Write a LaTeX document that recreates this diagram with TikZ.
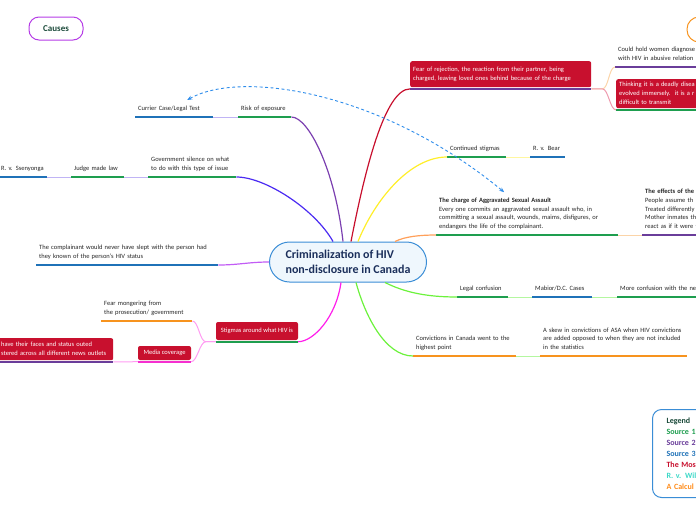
\documentclass[tikz,border=0pt]{standalone}
\usepackage{fontspec}
\setmainfont{Carlito}
\usetikzlibrary{arrows.meta}

\definecolor{hubline}{HTML}{3A8DD6}
\definecolor{hubfill}{HTML}{EFF7FD}
\definecolor{hubtext}{HTML}{1B2F5B}
\definecolor{crimson}{HTML}{C8102E}
\definecolor{srcgreen}{HTML}{1E9E4F}
\definecolor{srcblue}{HTML}{1F72B8}
\definecolor{srcpurple}{HTML}{6A3D9A}
\definecolor{srcorange}{HTML}{F7931E}
\definecolor{srcmagenta}{HTML}{F52FD0}
\definecolor{brpurple}{HTML}{7B3FB0}
\definecolor{brviolet}{HTML}{4B2BF2}
\definecolor{brlilac}{HTML}{C25CF5}
\definecolor{brmagenta}{HTML}{FF1EEB}
\definecolor{brgreen}{HTML}{6CF23C}
\definecolor{brorange}{HTML}{FFA05A}
\definecolor{bryellow}{HTML}{FFEE2A}
\definecolor{ltviolet}{HTML}{C0B4F5}
\definecolor{ltgreen}{HTML}{B4F7A0}
\definecolor{ltyellow}{HTML}{FFF7A0}
\definecolor{ltorange}{HTML}{FBD4A8}
\definecolor{ltpink}{HTML}{FF9CF2}
\definecolor{ltrose}{HTML}{EE9AAE}
\definecolor{xrefblue}{HTML}{2D8CEB}
\definecolor{causeline}{HTML}{B53CE6}
\definecolor{darktxt}{HTML}{1B4A3A}
\definecolor{turq}{HTML}{3DD9C8}
\definecolor{legorange}{HTML}{FF8C1A}

\newcommand{\notefont}{\fontsize{6.5}{8.6}\selectfont}
\newcommand{\boxfont}{\fontsize{6.5}{9}\selectfont}

\begin{document}
\begin{tikzpicture}[
    x=1pt, y=-1pt,
    topic/.style={anchor=south west, align=left, inner xsep=3pt, inner ysep=4pt,
                  font=\notefont, text=black!85,
                  execute at begin node=\strut, execute at end node=\strut},
    note/.style={fill=crimson, text=white, rounded corners=2pt, font=\boxfont,
                 inner sep=3pt},
    hub/.style={draw=hubline, fill=hubfill, line width=1pt, rounded corners=20pt,
                minimum width=157pt, minimum height=40pt, align=left,
                font=\fontsize{12}{15}\selectfont\bfseries, text=hubtext},
    cause/.style={draw=causeline, line width=1pt, rounded corners=10pt,
                  minimum width=54pt, minimum height=23pt,
                  font=\fontsize{9}{11}\selectfont\bfseries, text=darktxt},
    legend/.style={draw=hubline, line width=1pt, rounded corners=9pt, fill=white,
                   anchor=north west, align=left, text width=90pt, inner xsep=14pt,
                   minimum height=88pt, font=\fontsize{8}{11}\selectfont\bfseries},
    uline/.style={line width=1.8pt},
    branch/.style={line width=1.2pt},
    twig/.style={line width=1pt},
    xref/.style={{Stealth[length=5pt,width=4pt]}-{Stealth[length=5pt,width=4pt]},
                 xrefblue, line width=0.9pt, dash pattern=on 3pt off 2.5pt},
]
    \useasboundingbox (0,0) rectangle (696,520);
    \clip (0,0) rectangle (696,520);

    % --- Central topic and floating boxes ---
    \node[hub] (hub) at (348,262) {Criminalization of HIV\\non-disclosure in Canada};
    \node[cause] (causes) at (56,28.5) {Causes};
    \node[cause, draw=srcorange, rounded corners=12pt, minimum width=60pt,
          minimum height=25pt] (effbox) at (717,29.5) {};

    % --- Upper left: risk of exposure ---
    \node[topic, text width=47pt] (risk)    at (238,117) {Risk of exposure};
    \node[topic, text width=72pt] (currier) at (135,117) {Currier Case/Legal Test};
    \draw[uline, srcgreen] (risk.south west) -- (risk.south east);
    \draw[uline, srcblue]  (currier.south west) -- (currier.south east);
    \draw[branch, brpurple] ([xshift=-5pt]hub.north) .. controls +(-8,-72) and +(17,0) .. (risk.south east);
    \draw[twig, ltviolet] (risk.south west) -- (currier.south east);

    % --- Left: judge made law ---
    \node[topic, text width=82pt] (govsil) at (148,177) {Government silence on what\\to do with this type of issue};
    \node[topic, text width=47pt] (judge)  at (71,177)  {Judge made law};
    \node[topic, text width=43pt] (ssen)   at (-2,177)  {R. v. Ssenyonga};
    \draw[uline, srcgreen] (govsil.south west) -- (govsil.south east);
    \draw[uline, srcgreen] (judge.south west) -- (judge.south east);
    \draw[uline, srcblue]  (ssen.south west) -- (ssen.south east);
    \draw[branch, brviolet] ([xshift=-15pt]hub.north) .. controls +(-18,-32) and +(29,0) .. (govsil.south east);
    \draw[twig, ltviolet] (govsil.south west) -- (judge.south east);
    \draw[twig, ltviolet] (judge.south west) -- (ssen.south east);

    % --- Left: complainant ---
    \node[topic, text width=176pt] (compl) at (36,265) {The complainant would never have slept with the person had\\they known of the person's HIV status};
    \draw[uline, srcblue] (compl.south west) -- (compl.south east);
    \draw[branch, brlilac] (hub.west) .. controls +(-20,0) and +(20,0) .. (compl.south east);

    % --- Lower left: stigmas ---
    \node[note, minimum width=82pt, minimum height=18pt] (stig)  at (257,331)   {Stigmas around what HIV is};
    \node[topic, text width=85pt] (fear) at (101,321) {Fear mongering from\\the prosecution/ government};
    \node[note, minimum width=53pt, minimum height=14pt] (media) at (164.5,353) {Media coverage};
    \node[note, anchor=north west, align=left, text width=109pt, minimum height=22pt] (outed) at (-2,338)
        {have their faces and status outed\\stered across all different news outlets};
    \draw[uline, srcgreen]   ([yshift=-1.5pt]stig.south west) -- ([yshift=-1.5pt]stig.south east);
    \draw[uline, srcorange]  (fear.south west) -- (fear.south east);
    \draw[uline, srcmagenta] ([yshift=-1.5pt]media.south west) -- ([yshift=-1.5pt]media.south east);
    \draw[uline, srcpurple]  ([yshift=-1.5pt]outed.south west) -- ([yshift=-1.5pt]outed.south east);
    \draw[branch, brmagenta] ([xshift=-7pt]hub.south) .. controls +(-5,35) and +(15,0) .. ([yshift=-1.5pt]stig.south east);
    \draw[twig, ltpink] ([yshift=-1.5pt]stig.south west) -- ++(-10,0) .. controls +(-6,0) and +(6,0) .. (fear.south east);
    \draw[twig, ltpink] ([yshift=-1.5pt]stig.south west) -- ++(-10,0) .. controls +(-6,0) and +(6,0) .. ([yshift=-1.5pt]media.south east);
    \draw[twig, ltpink] ([yshift=-1.5pt]media.south west) -- ([yshift=-1.5pt]outed.south east);

    % --- Lower right: convictions ---
    \node[topic, text width=97pt]  (conv) at (413,356) {Convictions in Canada went to the\\highest point};
    \node[topic, text width=141pt] (skew) at (540,356) {A skew in convictions of ASA when HIV convictions\\are added opposed to when they are not included\\in the statistics};
    \draw[uline, srcorange] (conv.south west) -- (conv.south east);
    \draw[uline, srcorange] (skew.south west) -- (skew.south east);
    \draw[branch, brgreen] ([xshift=8pt]hub.south) .. controls +(9,33) and +(-28,0) .. (conv.south west);
    \draw[twig, ltgreen] (conv.south east) -- (skew.south west);

    % --- Right: legal confusion ---
    \node[topic, text width=45pt] (legal)  at (457,297) {Legal confusion};
    \node[topic, text width=54pt] (mabior) at (532,297) {Mabior/D.C. Cases};
    \node[topic, text width=87pt] (morec)  at (617,297) {More confusion with the ne};
    \draw[uline, srcgreen] (legal.south west) -- (legal.south east);
    \draw[uline, srcblue]  (mabior.south west) -- (mabior.south east);
    \draw[uline, srcgreen] (morec.south west) -- (morec.south east);
    \draw[branch, brgreen] ([xshift=37pt]hub.south) .. controls +(20,10) and +(-30,0) .. (legal.south west);
    \draw[twig, ltgreen] (legal.south east) -- (mabior.south west);
    \draw[twig, ltgreen] (mabior.south east) -- (morec.south west);

    % --- Right: aggravated sexual assault ---
    \node[topic, text width=176pt] (charge) at (436,235) {\textbf{The charge of Aggravated Sexual Assault}\\Every one commits an aggravated sexual assault who, in\\committing a sexual assault, wounds, maims, disfigures, or\\endangers the life of the complainant.};
    \node[topic, text width=72pt] (effects) at (642,235) {\textbf{The effects of the}\\People assume th\\Treated differently\\Mother inmates th\\react as if it were t};
    \draw[uline, srcgreen]  (charge.south west) -- (charge.south east);
    \draw[uline, srcpurple] (effects.south west) -- (effects.south east);
    \draw[branch, brorange] ([xshift=47pt]hub.north) .. controls +(10,-5) and +(-16,0) .. (charge.south west);
    \draw[twig, ltorange] (charge.south east) -- (effects.south west);

    % --- Upper right: continued stigmas ---
    \node[topic, text width=53pt] (contst) at (447,157) {Continued stigmas};
    \node[topic, text width=29pt] (bear)   at (530,157) {R. v. Bear};
    \draw[uline, srcgreen] (contst.south west) -- (contst.south east);
    \draw[uline, srcblue]  (bear.south west) -- (bear.south east);
    \draw[branch, bryellow] ([xshift=10pt]hub.north) .. controls +(17,-42) and +(-37,0) .. (contst.south west);
    \draw[twig, ltyellow] (contst.south east) -- (bear.south west);

    % --- Top: fear of rejection ---
    \node[note, anchor=north west, align=left, text width=175pt, minimum height=26pt] (rej) at (410,61)
        {Fear of rejection, the reaction from their partner, being\\charged, leaving loved ones behind because of the charge};
    \node[topic, text width=99pt] (women) at (615,67) {Could hold women diagnose\\with HIV in abusive relation};
    \node[note, anchor=north west, align=left, text width=110pt, minimum height=29pt] (deadly) at (616,79)
        {Thinking it is a deadly disea\\evolved immersely.\ \ it is a r\\difficult to transmit};
    \draw[uline, srcpurple] ([yshift=-1.5pt]rej.south west) -- ([yshift=-1.5pt]rej.south east);
    \draw[uline, srcpurple] (women.south west) -- (women.south east);
    \draw[uline, srcgreen]  ([yshift=-1.5pt]deadly.south west) -- ([yshift=-1.5pt]deadly.south east);
    \draw[branch, crimson] ([xshift=3pt]hub.north) .. controls +(14,-72) and +(-25,0) .. ([yshift=-1.5pt]rej.south west);
    \draw[twig, ltorange] ([yshift=-1.5pt]rej.south east) -- ++(11,0) .. controls +(6,0) and +(-6,0) .. (women.south west);
    \draw[twig, ltrose] ([yshift=-1.5pt]rej.south east) -- ++(11,0) .. controls +(6,0) and +(-6,0) .. ([yshift=-1.5pt]deadly.south west);

    % --- Cross reference (dashed) ---
    \draw[xref] ([xshift=13pt]currier.north) .. controls (240,70) and (380,90) .. ([xshift=-23pt]charge.north);

    % --- Legend ---
    \node[legend] (legend) at (652,409) {\textcolor{darktxt}{Legend}\\
        \textcolor{srcgreen}{Source 1}\\
        \textcolor{srcpurple}{Source 2}\\
        \textcolor{srcblue}{Source 3}\\
        \textcolor{crimson}{The Mos}\\
        \textcolor{turq}{R. v. Wil}\\
        \textcolor{legorange}{A Calcul}};
\end{tikzpicture}
\end{document}
